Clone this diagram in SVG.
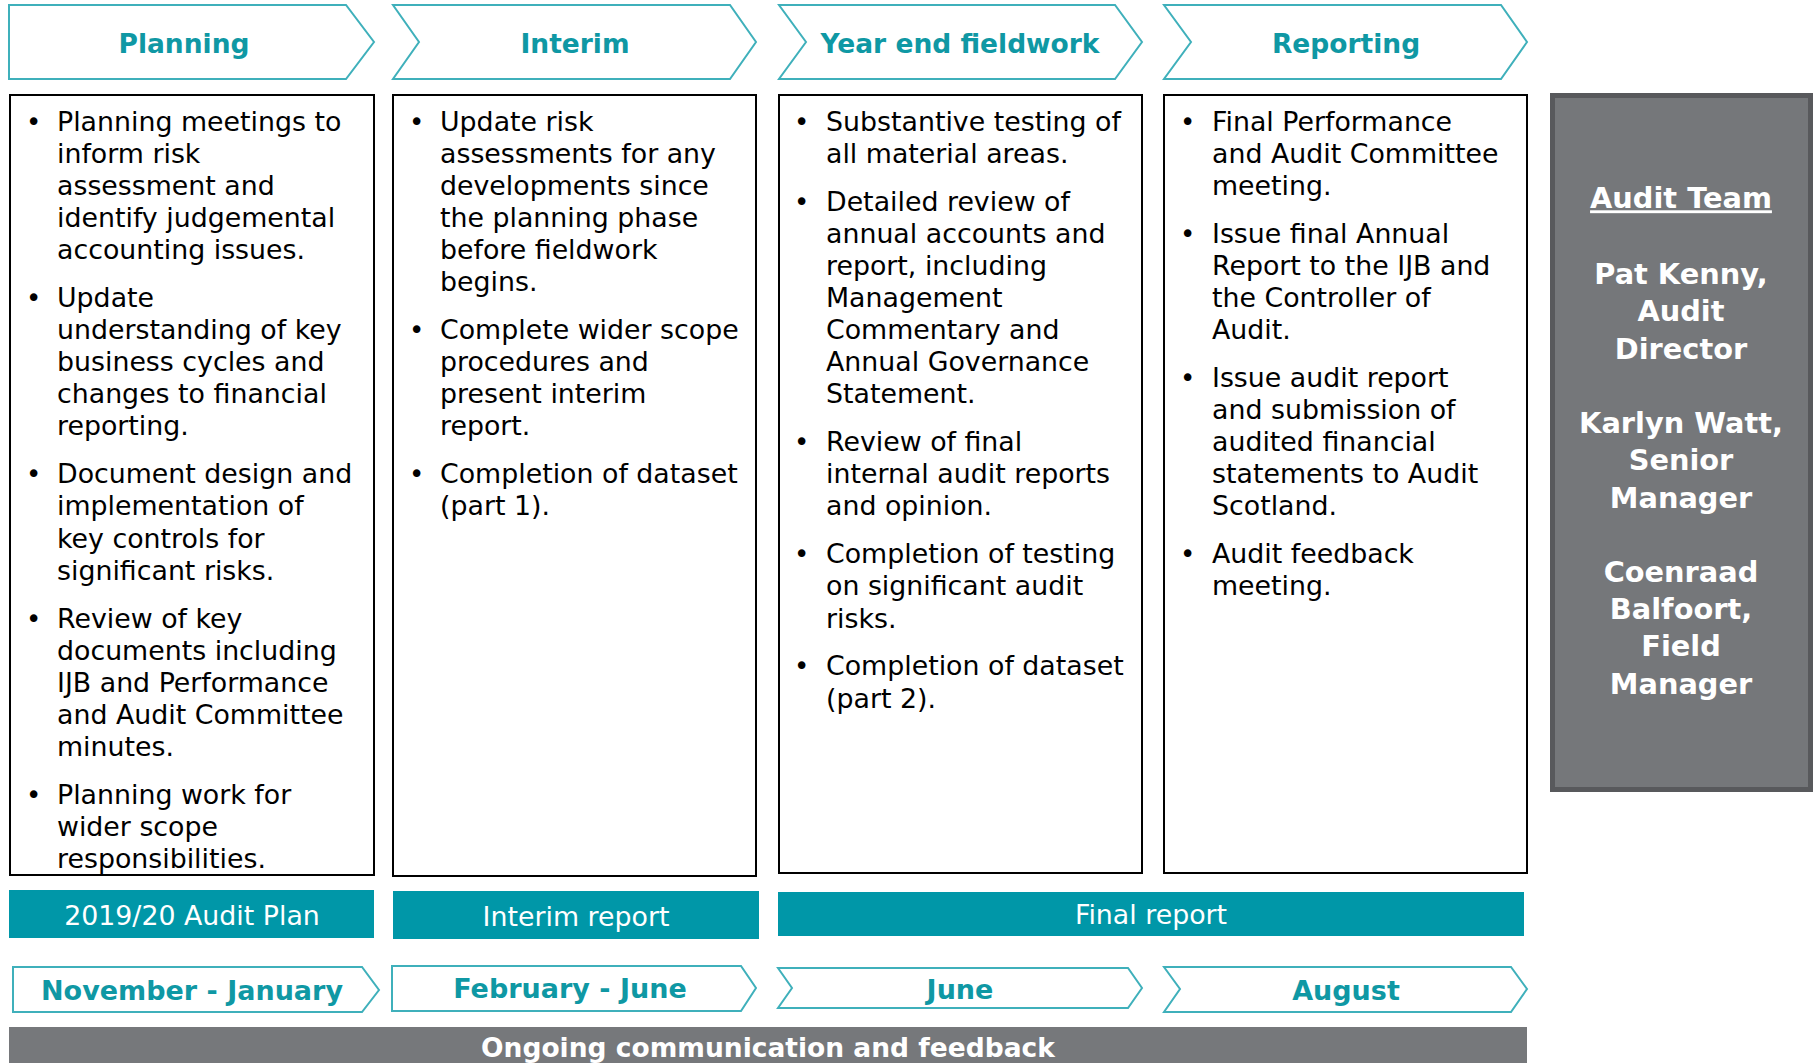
<svg xmlns="http://www.w3.org/2000/svg" width="1814" height="1063" viewBox="0 0 1814 1063">
<style>
.chev{fill:#ffffff;stroke:#3fb0bb;stroke-width:2}
.box{fill:#ffffff;stroke:#000000;stroke-width:2}
.bar{fill:#0097a8}
.hdr{font-family:"DejaVu Sans",Verdana,sans-serif;font-weight:bold;font-size:26.5px;fill:#0f98a4;text-anchor:middle}
.mon{font-family:"DejaVu Sans",Verdana,sans-serif;font-weight:bold;font-size:27px;fill:#0f98a4;text-anchor:middle}
.body{font-family:"DejaVu Sans",Verdana,sans-serif;font-size:26.8px;fill:#000000}
.bul{font-family:"DejaVu Sans",Verdana,sans-serif;font-size:26px;fill:#000000}
.barTxt{font-family:"DejaVu Sans",Verdana,sans-serif;font-size:26.8px;fill:#ffffff;text-anchor:middle}
.team{font-family:"DejaVu Sans",Verdana,sans-serif;font-weight:bold;font-size:28.8px;fill:#ffffff;text-anchor:middle}
.foot{font-family:"DejaVu Sans",Verdana,sans-serif;font-weight:bold;font-size:26.5px;fill:#ffffff;text-anchor:middle}
</style>

<g id="phase-planning">
<path class="chev" d="M9,5 H346 L374,42 L346,79 H9 Z"/>
<text class="hdr" x="184" y="53">Planning</text>
</g>
<g id="phase-interim">
<path class="chev" d="M393,5 H730 L756,42 L730,79 H393 L419,42 Z"/>
<text class="hdr" x="575" y="53">Interim</text>
</g>
<g id="phase-yearend">
<path class="chev" d="M779,5 H1115 L1142,42 L1115,79 H779 L806,42 Z"/>
<text class="hdr" x="960" y="53">Year end fieldwork</text>
</g>
<g id="phase-reporting">
<path class="chev" d="M1164,5 H1501 L1527,42 L1501,79 H1164 L1191,42 Z"/>
<text class="hdr" x="1346" y="53">Reporting</text>
</g>

<g id="box-planning">
<rect class="box" x="10" y="95" width="364" height="780"/>
<text class="bul" x="26" y="130.7">•</text>
<text class="body" y="130.7"><tspan x="57">Planning meetings to</tspan><tspan x="57" dy="32.1">inform risk</tspan><tspan x="57" dy="32.1">assessment and</tspan><tspan x="57" dy="32.1">identify judgemental</tspan><tspan x="57" dy="32.1">accounting issues.</tspan></text>
<text class="bul" x="26" y="307">•</text>
<text class="body" y="307"><tspan x="57">Update</tspan><tspan x="57" dy="32.1">understanding of key</tspan><tspan x="57" dy="32.1">business cycles and</tspan><tspan x="57" dy="32.1">changes to financial</tspan><tspan x="57" dy="32.1">reporting.</tspan></text>
<text class="bul" x="26" y="483.3">•</text>
<text class="body" y="483.3"><tspan x="57">Document design and</tspan><tspan x="57" dy="32.1">implementation of</tspan><tspan x="57" dy="32.1">key controls for</tspan><tspan x="57" dy="32.1">significant risks.</tspan></text>
<text class="bul" x="26" y="627.5">•</text>
<text class="body" y="627.5"><tspan x="57">Review of key</tspan><tspan x="57" dy="32.1">documents including</tspan><tspan x="57" dy="32.1">IJB and Performance</tspan><tspan x="57" dy="32.1">and Audit Committee</tspan><tspan x="57" dy="32.1">minutes.</tspan></text>
<text class="bul" x="26" y="803.8">•</text>
<text class="body" y="803.8"><tspan x="57">Planning work for</tspan><tspan x="57" dy="32.1">wider scope</tspan><tspan x="57" dy="32.1">responsibilities.</tspan></text>
</g>

<g id="box-interim">
<rect class="box" x="393" y="95" width="363" height="781"/>
<text class="bul" x="409" y="130.7">•</text>
<text class="body" y="130.7"><tspan x="440">Update risk</tspan><tspan x="440" dy="32.1">assessments for any</tspan><tspan x="440" dy="32.1">developments since</tspan><tspan x="440" dy="32.1">the planning phase</tspan><tspan x="440" dy="32.1">before fieldwork</tspan><tspan x="440" dy="32.1">begins.</tspan></text>
<text class="bul" x="409" y="339.1">•</text>
<text class="body" y="339.1"><tspan x="440">Complete wider scope</tspan><tspan x="440" dy="32.1">procedures and</tspan><tspan x="440" dy="32.1">present interim</tspan><tspan x="440" dy="32.1">report.</tspan></text>
<text class="bul" x="409" y="483.3">•</text>
<text class="body" y="483.3"><tspan x="440">Completion of dataset</tspan><tspan x="440" dy="32.1">(part 1).</tspan></text>
</g>

<g id="box-yearend">
<rect class="box" x="779" y="95" width="363" height="778"/>
<text class="bul" x="794" y="130.7">•</text>
<text class="body" y="130.7"><tspan x="826">Substantive testing of</tspan><tspan x="826" dy="32.1">all material areas.</tspan></text>
<text class="bul" x="794" y="210.7">•</text>
<text class="body" y="210.7"><tspan x="826">Detailed review of</tspan><tspan x="826" dy="32.1">annual accounts and</tspan><tspan x="826" dy="32.1">report, including</tspan><tspan x="826" dy="32.1">Management</tspan><tspan x="826" dy="32.1">Commentary and</tspan><tspan x="826" dy="32.1">Annual Governance</tspan><tspan x="826" dy="32.1">Statement.</tspan></text>
<text class="bul" x="794" y="451.2">•</text>
<text class="body" y="451.2"><tspan x="826">Review of final</tspan><tspan x="826" dy="32.1">internal audit reports</tspan><tspan x="826" dy="32.1">and opinion.</tspan></text>
<text class="bul" x="794" y="563.3">•</text>
<text class="body" y="563.3"><tspan x="826">Completion of testing</tspan><tspan x="826" dy="32.1">on significant audit</tspan><tspan x="826" dy="32.1">risks.</tspan></text>
<text class="bul" x="794" y="675.4">•</text>
<text class="body" y="675.4"><tspan x="826">Completion of dataset</tspan><tspan x="826" dy="32.1">(part 2).</tspan></text>
</g>

<g id="box-reporting">
<rect class="box" x="1164" y="95" width="363" height="778"/>
<text class="bul" x="1180" y="130.7">•</text>
<text class="body" y="130.7"><tspan x="1212">Final Performance</tspan><tspan x="1212" dy="32.1">and Audit Committee</tspan><tspan x="1212" dy="32.1">meeting.</tspan></text>
<text class="bul" x="1180" y="242.8">•</text>
<text class="body" y="242.8"><tspan x="1212">Issue final Annual</tspan><tspan x="1212" dy="32.1">Report to the IJB and</tspan><tspan x="1212" dy="32.1">the Controller of</tspan><tspan x="1212" dy="32.1">Audit.</tspan></text>
<text class="bul" x="1180" y="387">•</text>
<text class="body" y="387"><tspan x="1212">Issue audit report</tspan><tspan x="1212" dy="32.1">and submission of</tspan><tspan x="1212" dy="32.1">audited financial</tspan><tspan x="1212" dy="32.1">statements to Audit</tspan><tspan x="1212" dy="32.1">Scotland.</tspan></text>
<text class="bul" x="1180" y="563.3">•</text>
<text class="body" y="563.3"><tspan x="1212">Audit feedback</tspan><tspan x="1212" dy="32.1">meeting.</tspan></text>
</g>

<g id="audit-team">
<rect x="1552.5" y="95.5" width="258" height="694" fill="#75777a" stroke="#58595c" stroke-width="5"/>
<text class="team" x="1681" y="208.3" text-decoration="underline">Audit Team</text>
<text class="team" x="1681" y="283.5">Pat Kenny,</text>
<text class="team" x="1681" y="320.8">Audit</text>
<text class="team" x="1681" y="358.5">Director</text>
<text class="team" x="1681" y="432.8">Karlyn Watt,</text>
<text class="team" x="1681" y="470">Senior</text>
<text class="team" x="1681" y="507.5">Manager</text>
<text class="team" x="1681" y="582">Coenraad</text>
<text class="team" x="1681" y="619">Balfoort,</text>
<text class="team" x="1681" y="656">Field</text>
<text class="team" x="1681" y="693.5">Manager</text>
</g>

<g id="deliverable-plan">
<rect class="bar" x="9" y="890" width="365" height="48"/>
<text class="barTxt" x="192" y="925">2019/20 Audit Plan</text>
</g>
<g id="deliverable-interim">
<rect class="bar" x="393" y="891" width="366" height="48"/>
<text class="barTxt" x="576" y="926">Interim report</text>
</g>
<g id="deliverable-final">
<rect class="bar" x="778" y="892" width="746" height="44"/>
<text class="barTxt" x="1151" y="924">Final report</text>
</g>

<g id="month-nov-jan">
<path class="chev" d="M13,967 H362 L379,990 L362,1012 H13 Z"/>
<text class="mon" x="192" y="1000">November - January</text>
</g>
<g id="month-feb-june">
<path class="chev" d="M392,966 H741 L756,988 L741,1011 H392 Z"/>
<text class="mon" x="570" y="997.5">February - June</text>
</g>
<g id="month-june">
<path class="chev" d="M778,968 H1128 L1142,988 L1128,1008 H778 L792,988 Z"/>
<text class="mon" x="960" y="998.5">June</text>
</g>
<g id="month-august">
<path class="chev" d="M1164,967 H1511 L1527,989 L1511,1012 H1164 L1180,989 Z"/>
<text class="mon" x="1346" y="1000">August</text>
</g>

<g id="ongoing">
<rect x="9" y="1027" width="1518" height="40" fill="#76787b"/>
<text class="foot" x="768" y="1057">Ongoing communication and feedback</text>
</g>

<g id="connectors"></g>
</svg>
